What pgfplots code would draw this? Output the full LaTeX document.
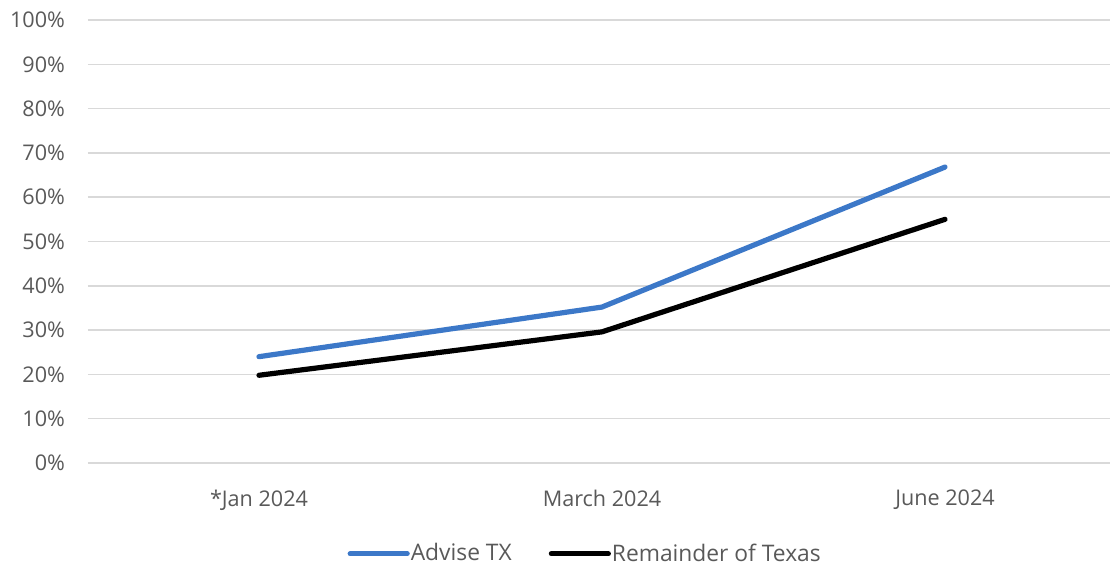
\documentclass[border=0pt]{standalone}
\usepackage{pgfplots}
\pgfplotsset{compat=1.18}
\usepackage{fontspec}
\setmainfont{Open Sans}
\definecolor{txt}{HTML}{595959}
\definecolor{grid}{HTML}{D9D9D9}
\definecolor{blueline}{HTML}{3C78C8}
\begin{document}
\begin{tikzpicture}
\path[use as bounding box] (-44pt,-52pt) rectangle (511pt,231.5pt);
\begin{axis}[
  at={(0,0)}, anchor=south west,
  scale only axis, width=511pt, height=221.5pt,
  xmin=-0.4985, xmax=2.481, ymin=0, ymax=100,
  xtick={0,1,2}, xticklabels={*Jan 2024,March 2024,June 2024},
  ytick={0,10,...,100},
  yticklabel={\pgfmathprintnumber{\tick}\%},
  /pgf/number format/assume math mode=true,
  ymajorgrids, xmajorgrids=false, major grid style={draw=grid, line width=0.75pt},
  axis lines*=left,
  x axis line style={draw=grid, line width=0.75pt, -},
  y axis line style={draw=none, -},
  major tick length=0pt,
  tick style={draw=none},
  ticklabel style={font=\fontsize{10.8}{12}\selectfont, text=txt},
  yticklabel style={xshift=-8pt},
  xticklabel style={yshift=-10pt},
  legend style={draw=none, fill=none, at={(rel axis cs:0.486,-0.205)}, anchor=center,
    font=\fontsize{11.4}{13}\selectfont, text=txt,
    nodes={inner xsep=0.5pt},
    /tikz/every even column/.append style={column sep=18pt}},
  legend columns=2,
  legend cell align=left,
  legend image code/.code={\draw[#1, line cap=round] (0pt,0pt) -- (28.5pt,0pt);},
]
\addplot[blueline, line width=2.6pt, line cap=round, line join=round] coordinates {(0,24) (1,35.2) (2,66.8)};
\addlegendentry{Advise TX}
\addplot[black, line width=2.6pt, line cap=round, line join=round] coordinates {(0,19.8) (1,29.6) (2,55)};
\addlegendentry{Remainder of Texas}
\end{axis}
\end{tikzpicture}
\end{document}
